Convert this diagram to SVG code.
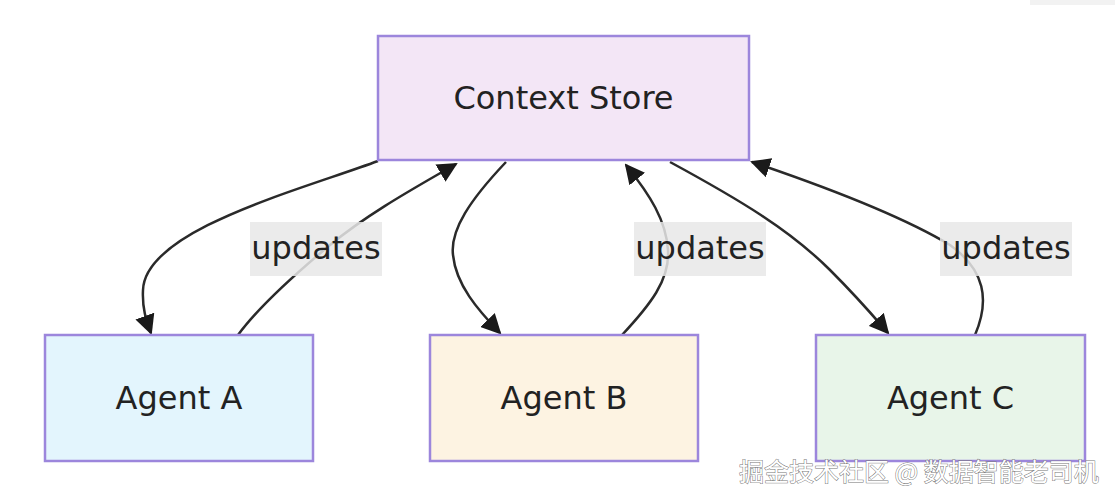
<svg xmlns="http://www.w3.org/2000/svg" width="1115" height="504" viewBox="0 0 1115 504">
<style>
.node rect{stroke:#9c86dc;stroke-width:2.5}
.node text{font-family:"DejaVu Sans","Liberation Sans",sans-serif;font-size:32px;fill:#222;text-anchor:middle;dominant-baseline:central}
.edge{fill:none;stroke:#2a2a2a;stroke-width:2.5}
.lbl rect{fill:#e8e8e8;opacity:0.85}
.lbl text{font-family:"DejaVu Sans","Liberation Sans",sans-serif;font-size:32px;fill:#222;text-anchor:middle;dominant-baseline:central}
.wm{font-family:"Noto Sans CJK SC",sans-serif;font-size:25px;fill:#fff;stroke:#777;stroke-width:1;paint-order:stroke}
</style>
<defs>
<marker id="arr" viewBox="0 0 10 10" refX="9" refY="5" markerWidth="8" markerHeight="8" markerUnits="strokeWidth" orient="auto">
<path d="M0,0 L10,5 L0,10 z" fill="#1a1a1a"/>
</marker>
</defs>
<rect width="1115" height="504" fill="#fff"/>
<rect x="1030" y="0" width="85" height="5" fill="#f2f2f2"/>
<g id="connectors">
<path class="edge" d="M378,161 C300,190 145,230 143,290 C142,310 147,322 151,333" marker-end="url(#arr)"/>
<path class="edge" d="M238,335 C260,305 300,270 330,245 C370,212 420,185 456,164" marker-end="url(#arr)"/>
<path class="edge" d="M506,162 C470,200 450,230 453,255 C456,285 478,310 500,333" marker-end="url(#arr)"/>
<path class="edge" d="M622,335 C650,305 670,280 668,250 C666,220 650,195 626,165" marker-end="url(#arr)"/>
<path class="edge" d="M670,162 C740,200 790,230 830,270 C860,300 875,318 888,333" marker-end="url(#arr)"/>
<path class="edge" d="M975,335 C990,300 985,270 950,245 C900,215 820,185 752,162" marker-end="url(#arr)"/>
</g>
<g id="labels">
<g class="lbl"><rect x="250" y="222" width="132" height="54"/><text x="316" y="248">updates</text></g>
<g class="lbl"><rect x="634" y="222" width="132" height="54"/><text x="700" y="248">updates</text></g>
<g class="lbl"><rect x="940" y="222" width="132" height="54"/><text x="1006" y="248">updates</text></g>
</g>
<g id="store" class="node"><rect x="378" y="36" width="371" height="124" fill="#f3e6f6"/><text x="563.5" y="98">Context Store</text></g>
<g id="agentA" class="node"><rect x="45" y="335" width="268" height="126" fill="#e3f5fd"/><text x="179" y="398">Agent A</text></g>
<g id="agentB" class="node"><rect x="430" y="335" width="268" height="126" fill="#fdf3e2"/><text x="564" y="398">Agent B</text></g>
<g id="agentC" class="node"><rect x="816" y="335" width="269" height="126" fill="#e8f5e9"/><text x="950.5" y="398">Agent C</text></g>
<text class="wm" x="739" y="481">掘金技术社区 @ 数据智能老司机</text>
</svg>
